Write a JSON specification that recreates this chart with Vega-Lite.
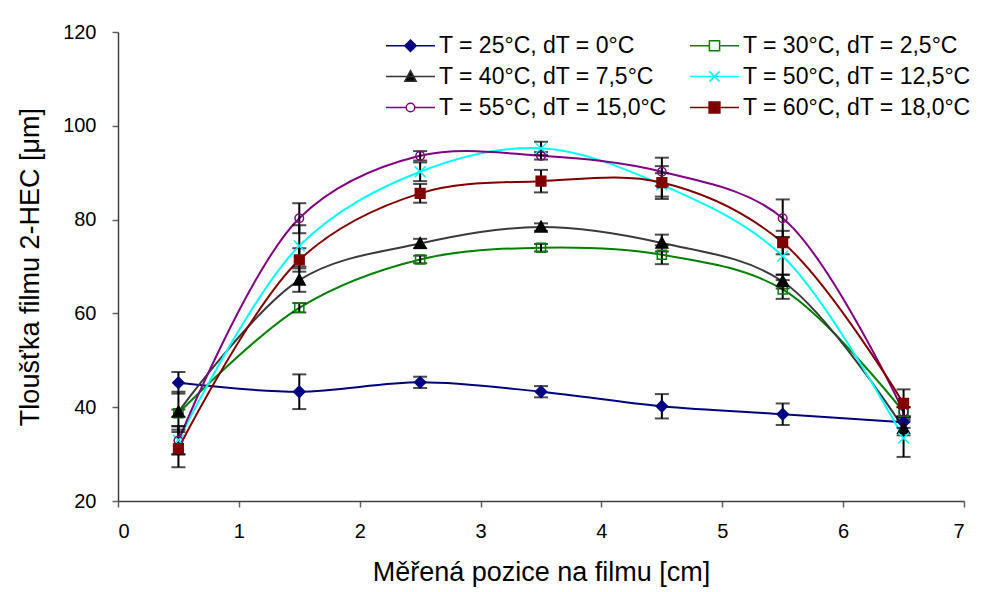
{
  "$schema": "https://vega.github.io/schema/vega-lite/v6.json",
  "width": 846,
  "height": 469,
  "autosize": "none",
  "padding": {"left": 118, "top": 32, "right": 17, "bottom": 91},
  "background": "white",
  "config": {
    "view": {"stroke": null},
    "font": "Liberation Sans",
    "axis": {
      "grid": false,
      "labelFont": "Liberation Sans",
      "labelFontSize": 20,
      "labelColor": "black",
      "titleFont": "Liberation Sans",
      "titleFontSize": 27,
      "titleFontWeight": "normal",
      "titleColor": "black",
      "domainColor": "#404040",
      "domainWidth": 1.5,
      "tickColor": "#606060",
      "tickWidth": 1.5,
      "tickSize": 6
    }
  },
  "data": {
    "values": [
      {"s": "T = 25°C, dT = 0°C", "x": 0.5, "y": 45.2, "e": 2.3},
      {"s": "T = 25°C, dT = 0°C", "x": 1.5, "y": 43.3, "e": 3.7},
      {"s": "T = 25°C, dT = 0°C", "x": 2.5, "y": 45.3, "e": 1.2},
      {"s": "T = 25°C, dT = 0°C", "x": 3.5, "y": 43.3, "e": 1.2},
      {"s": "T = 25°C, dT = 0°C", "x": 4.5, "y": 40.2, "e": 2.6},
      {"s": "T = 25°C, dT = 0°C", "x": 5.5, "y": 38.5, "e": 2.3},
      {"s": "T = 25°C, dT = 0°C", "x": 6.5, "y": 36.8, "e": 1.2},
      {"s": "T = 30°C, dT = 2,5°C", "x": 0.5, "y": 38.7, "e": 0.8},
      {"s": "T = 30°C, dT = 2,5°C", "x": 1.5, "y": 61.2, "e": 1.0},
      {"s": "T = 30°C, dT = 2,5°C", "x": 2.5, "y": 71.5, "e": 0.8},
      {"s": "T = 30°C, dT = 2,5°C", "x": 3.5, "y": 74.0, "e": 0.8},
      {"s": "T = 30°C, dT = 2,5°C", "x": 4.5, "y": 72.5, "e": 2.0},
      {"s": "T = 30°C, dT = 2,5°C", "x": 5.5, "y": 65.1, "e": 2.0},
      {"s": "T = 30°C, dT = 2,5°C", "x": 6.5, "y": 39.0, "e": 1.0},
      {"s": "T = 40°C, dT = 7,5°C", "x": 0.5, "y": 39.0, "e": 4.3},
      {"s": "T = 40°C, dT = 7,5°C", "x": 1.5, "y": 67.1, "e": 2.5},
      {"s": "T = 40°C, dT = 7,5°C", "x": 2.5, "y": 74.9, "e": 1.0},
      {"s": "T = 40°C, dT = 7,5°C", "x": 3.5, "y": 78.4, "e": 0.8},
      {"s": "T = 40°C, dT = 7,5°C", "x": 4.5, "y": 75.0, "e": 1.8},
      {"s": "T = 40°C, dT = 7,5°C", "x": 5.5, "y": 66.8, "e": 1.5},
      {"s": "T = 40°C, dT = 7,5°C", "x": 6.5, "y": 35.5, "e": 1.5},
      {"s": "T = 50°C, dT = 12,5°C", "x": 0.5, "y": 33.0, "e": 3.0},
      {"s": "T = 50°C, dT = 12,5°C", "x": 1.5, "y": 74.4, "e": 4.4},
      {"s": "T = 50°C, dT = 12,5°C", "x": 2.5, "y": 90.2, "e": 2.0},
      {"s": "T = 50°C, dT = 12,5°C", "x": 3.5, "y": 95.2, "e": 1.4},
      {"s": "T = 50°C, dT = 12,5°C", "x": 4.5, "y": 87.4, "e": 2.5},
      {"s": "T = 50°C, dT = 12,5°C", "x": 5.5, "y": 72.2, "e": 4.0},
      {"s": "T = 50°C, dT = 12,5°C", "x": 6.5, "y": 33.4, "e": 4.0},
      {"s": "T = 55°C, dT = 15,0°C", "x": 0.5, "y": 32.9, "e": 3.0},
      {"s": "T = 55°C, dT = 15,0°C", "x": 1.5, "y": 80.3, "e": 3.2},
      {"s": "T = 55°C, dT = 15,0°C", "x": 2.5, "y": 93.6, "e": 1.0},
      {"s": "T = 55°C, dT = 15,0°C", "x": 3.5, "y": 93.6, "e": 0.8},
      {"s": "T = 55°C, dT = 15,0°C", "x": 4.5, "y": 90.2, "e": 3.0},
      {"s": "T = 55°C, dT = 15,0°C", "x": 5.5, "y": 80.3, "e": 4.0},
      {"s": "T = 55°C, dT = 15,0°C", "x": 6.5, "y": 39.0, "e": 1.0},
      {"s": "T = 60°C, dT = 18,0°C", "x": 0.5, "y": 31.2, "e": 4.0},
      {"s": "T = 60°C, dT = 18,0°C", "x": 1.5, "y": 71.4, "e": 2.5},
      {"s": "T = 60°C, dT = 18,0°C", "x": 2.5, "y": 85.6, "e": 2.0},
      {"s": "T = 60°C, dT = 18,0°C", "x": 3.5, "y": 88.2, "e": 2.4},
      {"s": "T = 60°C, dT = 18,0°C", "x": 4.5, "y": 87.9, "e": 3.5},
      {"s": "T = 60°C, dT = 18,0°C", "x": 5.5, "y": 75.1, "e": 2.5},
      {"s": "T = 60°C, dT = 18,0°C", "x": 6.5, "y": 40.8, "e": 3.0}
    ]
  },
  "encoding": {
    "x": {
      "field": "x", "type": "quantitative",
      "scale": {"domain": [0, 7], "nice": false, "zero": false},
      "axis": {"values": [0, 1, 2, 3, 4, 5, 6, 7], "format": "d", "labelPadding": 14, "title": "Měřená pozice na filmu [cm]", "titlePadding": 18}
    },
    "y": {
      "field": "y", "type": "quantitative",
      "scale": {"domain": [20, 120], "nice": false, "zero": false},
      "axis": {"values": [20, 40, 60, 80, 100, 120], "labelPadding": 16, "title": "Tloušťka filmu 2-HEC [μm]", "titlePadding": 18}
    }
  },
  "layer": [
    {
      "mark": {"type": "line", "interpolate": "catmull-rom", "strokeWidth": 2},
      "encoding": {
        "stroke": {
          "field": "s", "type": "nominal", "legend": null,
          "scale": {
            "domain": ["T = 25°C, dT = 0°C", "T = 30°C, dT = 2,5°C", "T = 40°C, dT = 7,5°C", "T = 50°C, dT = 12,5°C", "T = 55°C, dT = 15,0°C", "T = 60°C, dT = 18,0°C"],
            "range": ["#000080", "#008000", "#3a3a3a", "#00ffff", "#800080", "#800000"]
          }
        }
      }
    },
    {
      "mark": {
        "type": "errorbar",
        "ticks": {"size": 14, "color": "black", "thickness": 2},
        "rule": {"color": "black", "strokeWidth": 2}
      },
      "encoding": {
        "x": {"field": "x", "type": "quantitative"},
        "y": {"field": "y", "type": "quantitative"},
        "yError": {"field": "e"}
      }
    },
    {
      "mark": {"type": "point", "size": 115, "strokeWidth": 1.5, "opacity": 1},
      "encoding": {
        "shape": {
          "field": "s", "type": "nominal", "legend": null,
          "scale": {
            "domain": ["T = 25°C, dT = 0°C", "T = 30°C, dT = 2,5°C", "T = 40°C, dT = 7,5°C", "T = 50°C, dT = 12,5°C", "T = 55°C, dT = 15,0°C", "T = 60°C, dT = 18,0°C"],
            "range": [
              "M0,-1.05L1.05,0L0,1.05L-1.05,0Z",
              "M-0.85,-0.85L0.85,-0.85L0.85,0.85L-0.85,0.85Z",
              "M0,-1.1L1.1,0.9L-1.1,0.9Z",
              "M-1,-1L1,1M-1,1L1,-1",
              "M0.8,0A0.8,0.8,0,1,1,-0.8,0A0.8,0.8,0,1,1,0.8,0Z",
              "M-0.9,-0.9L0.9,-0.9L0.9,0.9L-0.9,0.9Z"
            ]
          }
        },
        "fill": {
          "field": "s", "type": "nominal", "legend": null,
          "scale": {
            "domain": ["T = 25°C, dT = 0°C", "T = 30°C, dT = 2,5°C", "T = 40°C, dT = 7,5°C", "T = 50°C, dT = 12,5°C", "T = 55°C, dT = 15,0°C", "T = 60°C, dT = 18,0°C"],
            "range": ["#000080", "transparent", "#000000", "#00ffff", "transparent", "#800000"]
          }
        },
        "stroke": {
          "field": "s", "type": "nominal", "legend": null,
          "scale": {
            "domain": ["T = 25°C, dT = 0°C", "T = 30°C, dT = 2,5°C", "T = 40°C, dT = 7,5°C", "T = 50°C, dT = 12,5°C", "T = 55°C, dT = 15,0°C", "T = 60°C, dT = 18,0°C"],
            "range": ["#000080", "#008000", "#000000", "#00ffff", "#800080", "#800000"]
          }
        }
      }
    },
    {
      "mark": {"type": "point", "size": 110, "strokeWidth": 1.5, "opacity": 0},
      "encoding": {
        "shape": {
          "field": "s", "type": "nominal",
          "scale": {
            "domain": ["T = 25°C, dT = 0°C", "T = 30°C, dT = 2,5°C", "T = 40°C, dT = 7,5°C", "T = 50°C, dT = 12,5°C", "T = 55°C, dT = 15,0°C", "T = 60°C, dT = 18,0°C"],
            "range": [
              "M-4.08,0L4.08,0M0,-0.95L0.95,0L0,0.95L-0.95,0Z",
              "M-4.08,0L-0.85,0M0.85,0L4.08,0M-0.85,-0.85L0.85,-0.85L0.85,0.85L-0.85,0.85Z",
              "M-4.08,0L4.08,0M0,-1L0.95,0.8L-0.95,0.8Z",
              "M-4.08,0L4.08,0M-0.85,-0.85L0.85,0.85M-0.85,0.85L0.85,-0.85",
              "M-4.08,0L-0.72,0M0.72,0L4.08,0M0.72,0A0.72,0.72,0,1,1,-0.72,0A0.72,0.72,0,1,1,0.72,0Z",
              "M-4.08,0L4.08,0M-0.9,-0.9L0.9,-0.9L0.9,0.9L-0.9,0.9Z"
            ]
          },
          "legend": {
            "title": null,
            "orient": "none",
            "legendX": 281,
            "legendY": 2,
            "direction": "horizontal",
            "columns": 2,
            "padding": 0,
            "columnPadding": 19,
            "rowPadding": 7,
            "symbolSize": 144,
            "symbolStrokeWidth": 1.5,
            "symbolOpacity": 1,
            "labelFont": "Liberation Sans",
            "labelFontSize": 23,
            "labelColor": "black",
            "labelOffset": 17,
            "labelLimit": 0
          }
        },
        "fill": {
          "field": "s", "type": "nominal",
          "scale": {
            "domain": ["T = 25°C, dT = 0°C", "T = 30°C, dT = 2,5°C", "T = 40°C, dT = 7,5°C", "T = 50°C, dT = 12,5°C", "T = 55°C, dT = 15,0°C", "T = 60°C, dT = 18,0°C"],
            "range": ["#000080", "#ffffff", "#000000", "#00ffff", "#ffffff", "#800000"]
          },
          "legend": {
            "title": null,
            "orient": "none",
            "legendX": 281,
            "legendY": 2,
            "direction": "horizontal",
            "columns": 2,
            "padding": 0,
            "columnPadding": 19,
            "rowPadding": 7,
            "symbolSize": 144,
            "symbolStrokeWidth": 1.5,
            "symbolOpacity": 1,
            "labelFont": "Liberation Sans",
            "labelFontSize": 23,
            "labelColor": "black",
            "labelOffset": 17,
            "labelLimit": 0
          }
        },
        "stroke": {
          "field": "s", "type": "nominal",
          "scale": {
            "domain": ["T = 25°C, dT = 0°C", "T = 30°C, dT = 2,5°C", "T = 40°C, dT = 7,5°C", "T = 50°C, dT = 12,5°C", "T = 55°C, dT = 15,0°C", "T = 60°C, dT = 18,0°C"],
            "range": ["#000080", "#008000", "#333333", "#00ffff", "#800080", "#800000"]
          },
          "legend": {
            "title": null,
            "orient": "none",
            "legendX": 281,
            "legendY": 2,
            "direction": "horizontal",
            "columns": 2,
            "padding": 0,
            "columnPadding": 19,
            "rowPadding": 7,
            "symbolSize": 144,
            "symbolStrokeWidth": 1.5,
            "symbolOpacity": 1,
            "labelFont": "Liberation Sans",
            "labelFontSize": 23,
            "labelColor": "black",
            "labelOffset": 17,
            "labelLimit": 0
          }
        }
      }
    }
  ],
  "resolve": {"scale": {"shape": "independent", "fill": "independent", "stroke": "independent"}}
}
